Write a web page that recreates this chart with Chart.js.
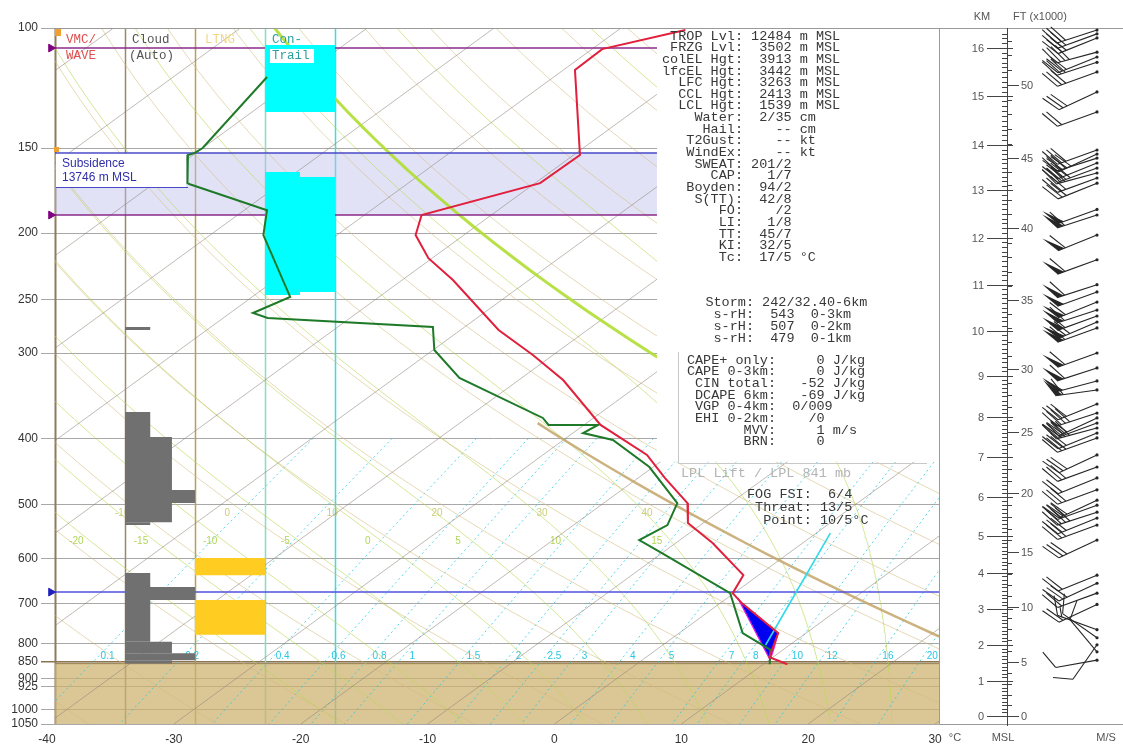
<!DOCTYPE html>
<html><head><meta charset="utf-8"><title>Skew-T</title>
<script src="https://cdn.jsdelivr.net/npm/chart.js@4.4.1/dist/chart.umd.min.js"></script>
<style>html,body{margin:0;padding:0;background:#fff;overflow:hidden}#wrap{position:relative;width:1123px;height:749px}</style>
</head><body><div id="wrap"><canvas id="skewt"></canvas></div>
<script>
// ================= DATA =================
const pressureTicks = [100,150,200,250,300,400,500,600,700,800,850,900,925,1000,1050];
const tempTicks = [-40,-30,-20,-10,0,10,20,30];

// temperature profile (hPa, degC)
const tempP = [100.7,107.4,115.2,153.6,168.9,188.1,201.3,217.6,234.3,277.4,301.8,328.5,382.3,423.0,457.3,497.8,532.6,569.7,635.1,674.8,698.0,772.2,837.5,858];
const tempT = [-64.7,-69.2,-69.1,-59.5,-59.6,-65.5,-63.8,-60.3,-56.0,-47.0,-41.6,-36.5,-28.7,-21.8,-17.9,-13.4,-11.2,-7.1,-1.2,-0.1,1.7,7.8,9.7,11.9];

// dewpoint profile (hPa, degC)
const dewP = [118.0,150.0,152.6,153.6,168.9,169.5,185.1,201.3,248.1,261.9,266.4,274.6,296.8,326.2,373.4,382.3,382.3,392.9,402.2,440.7,497.8,536.2,564.1,587.1,674.8,772.2,817.1,858];
const dewT = [-92.6,-90.0,-90.1,-90.4,-87.4,-87.1,-78.2,-75.8,-67.0,-68.2,-66.5,-52.5,-49.9,-44.9,-34.0,-32.8,-28.9,-29.2,-26.1,-20.3,-14.2,-12.6,-13.2,-10.3,-0.3,5.0,9.0,10.5];

// CIN area (parcel vs environment) and lifted parcel line
const cinP = [686.3,698.0,772.2,812.3,846.2];
const cinT = [0.85,1.7,7.8,9.1,10.1];
const liftP = [804,550.8];
const liftT = [8.1,1.1];

// cloud column layers (top hPa, base hPa, cover fraction)
const cloudTopP = [274.6,366.0,398.3,476.2,497.8,531.0,630.3,661.1,690.9,795.3,827.1,846.2];
const cloudBotP = [277.4,398.3,476.2,497.8,531.0,536.2,661.1,690.9,795.3,827.1,846.2,856];
const cloudCover = [0.36,0.36,0.67,1.0,0.67,0.36,0.36,1.0,0.36,0.67,1.0,0.67];

// third column (yellow) layers
const ltngTopP = [599.4,690.9];
const ltngBotP = [635.1,777.0];

// contrail layers (top, base, from fraction, to fraction)
const conTopP = [105.9,162.7,165.4];
const conBotP = [132.8,246.4,243.9];
const conFrom = [0,0,0.5];
const conTo = [1,0.5,1];

// levels
const surfaceP = 856;
const subsidenceTopP = 152.5;
const subsidenceBotP = 188.1;
const tropLevelsP = [107.0,188.1];   // purple markers
const frzLevelP = 672.5;             // blue marker

// reference isopleths highlighted in the picture (potential temperature, K)
const refDryTheta = 315.5;
const refUpperTheta = 339.5;

// height scale of the wind panel: pressure at each km (MSL)
const kmLabels = [0,1,2,3,4,5,6,7,8,9,10,11,12,13,14,15,16];
const kmP = [1022,908,804,712,630,556,488,426,372,324,278,238,203,173,148.5,126,107];

// winds (hPa, direction deg, speed m/s)
const windP = [100.7,102.0,103.4,108.5,110.3,112.3,116.0,124.1,132.8,151.0,153.1,155.2,157.8,160.5,163.2,166.0,168.9,184.6,188.1,201.3,218.8,238.0,243.9,252.4,259.3,264.6,270.0,275.5,299.8,315.3,329.5,339.7,356.2,367.3,373.4,379.9,386.3,392.9,399.5,423.0,440.7,457.3,476.0,493.0,501.3,513.3,523.7,536.2,564.1,635.1,652.6,674.8,701.0,763.6,784.6,803.5,822.7,846.2];
const windDir = [252,250,248,255,248,252,250,245,250,250,245,252,248,250,255,250,248,250,252,248,250,252,250,248,252,250,247,250,250,252,255,262,248,252,245,250,255,248,250,245,250,248,250,245,250,252,248,250,245,248,245,250,245,290,305,215,320,260];
const windSpd = [17,15,15,20,17,15,15,15,12,17,20,15,17,20,15,17,15,27,30,30,30,32,27,30,32,30,35,30,30,32,27,30,17,20,17,15,20,17,15,15,15,12,15,15,17,20,15,17,15,12,15,12,10,8,7,6,5,5];

// background isopleth sets
const isothermT = [-110,-100,-90,-80,-70,-60,-50,-40,-30,-20,-10,0,10,20,30];
const dryThetaC = [-40,-30,-20,-10,0,10,20,30,40,50,60,70,80,90,100,110,120,130,140,150,160,170];
const moistThetaW = [-20,-15,-10,-5,0,5,10,15,20,25,30,35,40];
const mixW = [0.1,0.2,0.4,0.6,0.8,1,1.5,2,2.5,3,4,5,7,8,10,12,16,20];

// ================= LAYOUT / PROJECTION =================
const P_BOTTOM = 1050, SKEW = 32;
const X_MIN = -40, X_MAX = 30.39;
const COL_X = [-39.37,-33.85,-28.33,-22.82,-17.30]; // column boundaries (axis units)
const BOX_X = 8.08, BOX_P = 433;                  // text panel area
const CLIP = {left:-8, top:0, right:0, bottom:0};
const FONT_SANS = '"Liberation Sans", Arial, sans-serif';
const FONT_MONO = '"Liberation Mono", "DejaVu Sans Mono", monospace';

const sx = (T,p) => T + SKEW*Math.log(P_BOTTOM/p);
const pt = (T,p) => ({x: sx(T,p), y: p});
function logSpace(a,b,n){const r=[];for(let i=0;i<=n;i++) r.push(a*Math.pow(b/a,i/n));return r;}
function es(Tc){return 6.112*Math.exp(17.67*Tc/(Tc+243.5));}
function dTdp(TK,p){
  const e=es(TK-273.15), rs=0.622*e/(p-e);
  const Rd=287.04, Cp=1005.7, L=2.501e6, eps=0.622;
  return (Rd*TK + L*rs)/(p*(Cp + L*L*rs*eps/(Rd*TK*TK)));
}
function moistPath(Tc,p0,p1){
  const pts=[]; let T=Tc+273.15, p=p0;
  const n=Math.max(1,Math.ceil(Math.abs(p1-p0)/5)), dp=(p1-p0)/n;
  pts.push(pt(T-273.15,p));
  for(let i=0;i<n;i++){const k1=dTdp(T,p), k2=dTdp(T+k1*dp,p+dp); T+=0.5*(k1+k2)*dp; p+=dp; pts.push(pt(T-273.15,p));}
  return pts;
}
const dryT = (thK,p) => thK*Math.pow(p/1000,0.2857)-273.15;
function tdFromW(w,p){const e=w*p/(622+w), l=Math.log(e/6.112); return 243.5*l/(17.67-l);}
const rect = (x0,x1,p0,p1) => [{x:x0,y:p0},{x:x1,y:p0},{x:x1,y:p1},{x:x0,y:p1},{x:x0,y:p0}];

// ================= DATASETS =================
const datasets = [];
function addLine(points,o){datasets.push(Object.assign({data:points,showLine:true,pointRadius:0,pointHoverRadius:0,borderWidth:1,fill:false,clip:CLIP,tension:0},o));}
function addPoly(points,color,order){addLine(points,{fill:'shape',backgroundColor:color,borderColor:'rgba(0,0,0,0)',borderWidth:0,order});}

// ground and subsidence band
addPoly(rect(COL_X[0],X_MAX,surfaceP,P_BOTTOM),'rgba(205,178,110,0.72)',100);
addLine([{x:COL_X[0],y:surfaceP},{x:X_MAX,y:surfaceP}],{borderColor:'#8a7550',borderWidth:1.5,order:100});
addPoly(rect(COL_X[0],X_MAX,subsidenceTopP,subsidenceBotP),'rgba(190,190,238,0.45)',99);

// isotherms
isothermT.forEach(T=>addLine([pt(T,P_BOTTOM),pt(T,100)],{borderColor:'rgba(140,130,120,0.55)',order:90}));
// dry adiabats
const pl = logSpace(100,P_BOTTOM,40);
dryThetaC.forEach(tc=>addLine(pl.map(p=>pt(dryT(tc+273.15,p),p)),{borderColor:'rgba(210,185,120,0.55)',order:90}));
// moist adiabats
moistThetaW.forEach(tw=>{const down=moistPath(tw,1000,P_BOTTOM).reverse(); const up=moistPath(tw,1000,100); addLine(down.concat(up.slice(1)),{borderColor:'rgba(185,215,80,0.6)',order:90});});
// mixing ratio
mixW.forEach(w=>addLine(logSpace(400,P_BOTTOM,20).map(p=>pt(tdFromW(w,p),p)),{borderColor:'rgba(30,200,230,0.75)',borderDash:[2,3],order:90}));
// highlighted isopleths
addLine(logSpace(380,P_BOTTOM,30).map(p=>pt(dryT(refDryTheta,p),p)),{borderColor:'rgba(195,165,105,0.85)',borderWidth:2.5,order:89});
addLine(logSpace(100,420,30).map(p=>pt(dryT(refUpperTheta,p),p)),{borderColor:'rgba(175,222,50,0.9)',borderWidth:3,order:89});

// marker levels
tropLevelsP.forEach(p=>addLine([{x:COL_X[0],y:p},{x:X_MAX,y:p}],{borderColor:'#8a2a8a',borderWidth:1.5,order:85}));
addLine([{x:COL_X[0],y:subsidenceTopP},{x:X_MAX,y:subsidenceTopP}],{borderColor:'#4848c8',borderWidth:1.5,order:85});
addLine([{x:COL_X[0],y:frzLevelP},{x:X_MAX,y:frzLevelP}],{borderColor:'#5050e0',borderWidth:1.5,order:85});
const markerX = -39.685;
tropLevelsP.forEach(p=>datasets.push({data:[{x:markerX,y:p}],showLine:false,pointStyle:'triangle',rotation:90,pointRadius:4.5,pointBackgroundColor:'#800080',pointBorderColor:'#800080',clip:false,order:5}));
datasets.push({data:[{x:markerX,y:frzLevelP}],showLine:false,pointStyle:'triangle',rotation:90,pointRadius:4.5,pointBackgroundColor:'#2020c0',pointBorderColor:'#2020c0',clip:false,order:5});

// text panel background
addPoly(rect(BOX_X,X_MAX,100,BOX_P),'#ffffff',80);

// columns: clouds, yellow, contrail
const cw = COL_X[2]-COL_X[1];
cloudTopP.forEach((t,i)=>addPoly(rect(COL_X[1],COL_X[1]+cloudCover[i]*cw,t,cloudBotP[i]),'#707070',50));
ltngTopP.forEach((t,i)=>addPoly(rect(COL_X[2],COL_X[3],t,ltngBotP[i]),'#ffcc22',50));
const ccw = COL_X[4]-COL_X[3];
conTopP.forEach((t,i)=>addPoly(rect(COL_X[3]+conFrom[i]*ccw,COL_X[3]+conTo[i]*ccw,t,conBotP[i]),'#00ffff',50));

// CIN area and lifted line
const cinPts = cinP.map((p,i)=>pt(cinT[i],p)); cinPts.push(cinPts[0]);
addLine(cinPts,{fill:'shape',backgroundColor:'#0000f0',borderColor:'#e020e0',borderWidth:1.2,order:30});
addLine(liftP.map((p,i)=>pt(liftT[i],p)),{borderColor:'#30d8e8',borderWidth:1.6,order:25});

// profiles
addLine(dewP.map((p,i)=>pt(dewT[i],p)),{borderColor:'#1e7a28',borderWidth:2,order:11});
addLine(tempP.map((p,i)=>pt(tempT[i],p)),{borderColor:'#e0203c',borderWidth:2,order:10});

// ================= DECORATION PLUGIN =================
function kmToP(km){const i=Math.min(Math.max(Math.floor(km),0),kmP.length-2); const f=km-i; return Math.exp(Math.log(kmP[i])*(1-f)+Math.log(kmP[i+1])*f);}

const deco = {
  id:'deco',
  beforeDatasetsDraw(chart){
    const ctx=chart.ctx, X=v=>chart.scales.x.getPixelForValue(v), Y=p=>chart.scales.y.getPixelForValue(p);
    const ca=chart.chartArea, top=Y(100), bot=Y(P_BOTTOM);
    const cols=[['#8c7b5e',2],['#9a8868',1.5],['#b8a050',1.5],['#80e0c0',1.5],['#40dcdc',1.5]];
    ctx.save();
    COL_X.forEach((v,i)=>{const x=Math.round(X(v))+0.5; ctx.strokeStyle=cols[i][0]; ctx.lineWidth=cols[i][1]; ctx.beginPath(); ctx.moveTo(x,top); ctx.lineTo(x,bot); ctx.stroke();});
    // isopleth labels
    ctx.font='10px '+FONT_SANS; ctx.textAlign='center'; ctx.textBaseline='middle';
    ctx.fillStyle='rgba(30,195,225,0.95)';
    mixW.forEach(w=>{const px=X(sx(tdFromW(w,835),835))+9; if(px>X(COL_X[0])+6 && px<ca.right-6) ctx.fillText(String(w),px,Y(835));});
    ctx.fillStyle='rgba(200,200,110,0.9)';
    dryThetaC.forEach(tc=>{const px=X(sx(dryT(tc+273.15,515),515))-18; if(px>70 && px<700) ctx.fillText(String(tc),px,Y(515));});
    ctx.fillStyle='rgba(170,210,70,0.9)';
    moistThetaW.forEach(tw=>{const path=moistPath(tw,1000,566); const q=path[path.length-1]; const px=X(q.x)-14; if(px>70 && px<700) ctx.fillText(String(tw),px,Y(566));});
    ctx.restore();
  },
  afterDatasetsDraw(chart){
    const ctx=chart.ctx, X=v=>chart.scales.x.getPixelForValue(v), Y=p=>chart.scales.y.getPixelForValue(p);
    const ca=chart.chartArea;
    ctx.save();
    // frame
    ctx.strokeStyle='#9a9a9a'; ctx.lineWidth=1;
    ctx.beginPath(); ctx.moveTo(X(COL_X[0]),Math.round(ca.top)+0.5); ctx.lineTo(1123,Math.round(ca.top)+0.5); ctx.stroke();
    ctx.beginPath(); ctx.moveTo(Math.round(ca.right)-0.5,ca.top); ctx.lineTo(Math.round(ca.right)-0.5,ca.bottom); ctx.stroke();

    // subsidence label
    const sl=X(COL_X[0])+1, stp=Y(subsidenceTopP)+1, sbt=187;
    ctx.fillStyle='#ffffff'; ctx.fillRect(sl,stp,186-sl,sbt-stp);
    ctx.strokeStyle='#4848c8'; ctx.lineWidth=1.2; ctx.beginPath(); ctx.moveTo(sl,sbt+0.5); ctx.lineTo(188,sbt+0.5); ctx.stroke();
    ctx.fillStyle='#3030a8'; ctx.font='12px '+FONT_SANS; ctx.textAlign='left'; ctx.textBaseline='middle';
    ctx.fillText('Subsidence',62,164); ctx.fillText('13746 m MSL',62,178);

    // orange markers
    ctx.fillStyle='#f0a030'; ctx.fillRect(55,29,6,7); ctx.fillRect(54,147,5,5);

    // column titles
    ctx.font='12.5px '+FONT_MONO; ctx.textAlign='left';
    ctx.fillStyle='#e05050'; ctx.fillText('VMC/',66,40); ctx.fillText('WAVE',66,56);
    ctx.fillStyle='#555555'; ctx.fillText('Cloud',132,40); ctx.fillText('(Auto)',129,56);
    ctx.fillStyle='#f0d888'; ctx.fillText('LTNG',205,40);
    ctx.fillStyle='#ffffff'; ctx.fillRect(270,49,44,14);
    ctx.fillStyle='#2aa0a0'; ctx.fillText('Con-',272,40); ctx.fillText('Trail',272,56);

    // info text block
    ctx.font='13.5px '+FONT_MONO; ctx.fillStyle='#383838'; ctx.textBaseline='middle'; ctx.textAlign='left';
    const cwid=ctx.measureText('M').width;
    const info=[['TROP Lvl','12484','m MSL'],['FRZG Lvl','3502','m MSL'],['colEL Hgt','3913','m MSL'],['lfcEL Hgt','3442','m MSL'],['LFC Hgt','3263','m MSL'],['CCL Hgt','2413','m MSL'],['LCL Hgt','1539','m MSL'],['Water','2/35','cm'],['Hail','--','cm'],['T2Gust','--','kt'],['WindEx','--','kt'],['SWEAT','201/2',''],['CAP','1/7',''],['Boyden','94/2',''],['S(TT)','42/8',''],['FO','/2',''],['LI','1/8',''],['TT','45/7',''],['KI','32/5',''],['Tc','17/5','°C']];
    const x0=743-10*cwid;
    info.forEach((r,i)=>{ctx.fillText((r[0]+':').padStart(10)+' '+r[1].padStart(5)+(r[2]?' '+r[2]:''),x0,36+i*11.65);});
    const storm=['Storm: 242/32.40-6km',' s-rH:  543  0-3km',' s-rH:  507  0-2km',' s-rH:  479  0-1km'];
    const x1=754-6*cwid;
    storm.forEach((s,i)=>ctx.fillText(s,x1,302+i*12));
    const cape=[['CAPE+ only','    0 J/kg'],['CAPE 0-3km','    0 J/kg'],['CIN total','  -52 J/kg'],['DCAPE 6km','  -69 J/kg'],['VGP 0-4km',' 0/009'],['EHI 0-2km','   /0'],['MVV','    1 m/s'],['BRN','    0']];
    const x2=776-11*cwid;
    cape.forEach((r,i)=>ctx.fillText((r[0]+':').padStart(11)+' '+r[1],x2,360+i*11.7));
    ctx.strokeStyle='#c8c8c8'; ctx.lineWidth=1;
    ctx.beginPath(); ctx.moveTo(678.5,352); ctx.lineTo(678.5,463.5); ctx.lineTo(927,463.5); ctx.stroke();
    ctx.fillStyle='#b4b4b4'; ctx.fillText('LPL Lift / LPL 841 mb',681,473);
    ctx.fillStyle='#383838';
    const fog=['FOG FSI:  6/4',' Threat: 13/5','  Point: 10/5°C'];
    fog.forEach((s,i)=>ctx.fillText(s,747,494+i*13));
    ctx.restore();
  },
  afterDraw(chart){
    const ctx=chart.ctx, Y=p=>chart.scales.y.getPixelForValue(p);
    const ca=chart.chartArea;
    const ln=(a,b,c,d)=>{ctx.beginPath();ctx.moveTo(a,b);ctx.lineTo(c,d);ctx.stroke();};
    ctx.save();
    ctx.strokeStyle='#9a9a9a'; ctx.lineWidth=1;
    ln(940,Math.round(ca.bottom)+0.5,1123,Math.round(ca.bottom)+0.5);
    const ax=1007.5;
    ctx.strokeStyle='#444'; ln(ax,ca.top,ax,ca.bottom+2);
    for(let k=1;k<=164;k++){ if(k%10===0) continue; const y=Math.round(Y(kmToP(k/10)))+0.5; if(y<ca.top+2) continue; ln(1002,y,ax,y);}
    ctx.font='11px '+FONT_SANS; ctx.fillStyle='#555'; ctx.textBaseline='middle';
    kmLabels.forEach((k,i)=>{const y=Math.round(Y(kmP[i]))+0.5; ln(987,y,1013,y); ctx.textAlign='right'; ctx.fillText(String(k),984,y);});
    for(let f=0;f<=53;f++){const y=Math.round(Y(kmToP(f*0.3048)))+0.5; if(y<ca.top+2) continue; if(f%5===0){ln(ax,y,1019,y); ctx.textAlign='left'; ctx.fillText(String(f),1021,y);} else ln(ax,y,1012,y);}
    ctx.textAlign='center'; ctx.fillText('KM',982,17); ctx.fillText('FT (x1000)',1040,17);
    ctx.fillText('°C',955,738); ctx.fillText('MSL',1003,738); ctx.fillText('M/S',1106,738);
    // wind barbs
    const bx=1097;
    ctx.strokeStyle='#262626'; ctx.fillStyle='#262626'; ctx.lineWidth=1.1;
    windP.forEach((p,i)=>{
      const y=Y(p), rad=windDir[i]*Math.PI/180;
      const ux=Math.sin(rad), uy=-Math.cos(rad), L=42, fl=20, a=60*Math.PI/180;
      const fx=ux*Math.cos(a)-uy*Math.sin(a), fy=ux*Math.sin(a)+uy*Math.cos(a);
      const ex=bx+ux*L, ey=y+uy*L;
      ln(bx,y,ex,ey);
      let s=windSpd[i], pos=0;
      while(s>=25-1e-6){const b1x=ex-ux*pos,b1y=ey-uy*pos,b2x=ex-ux*(pos+7),b2y=ey-uy*(pos+7);
        ctx.beginPath(); ctx.moveTo(b1x,b1y); ctx.lineTo(b1x+fx*fl,b1y+fy*fl); ctx.lineTo(b2x,b2y); ctx.closePath(); ctx.fill(); pos+=8; s-=25;}
      while(s>=5-1e-6){const b1x=ex-ux*pos,b1y=ey-uy*pos; ln(b1x,b1y,b1x+fx*fl,b1y+fy*fl); pos+=4.5; s-=5;}
      if(s>=2.5-1e-6){const b1x=ex-ux*pos,b1y=ey-uy*pos; ln(b1x,b1y,b1x+fx*fl/2,b1y+fy*fl/2);}
      ctx.beginPath(); ctx.arc(bx,y,1.6,0,Math.PI*2); ctx.fill();
    });
    ctx.restore();
  }
};

Chart.defaults.font.family = FONT_SANS;
new Chart(document.getElementById('skewt'), {
  type:'line',
  data:{datasets},
  options:{
    responsive:true, maintainAspectRatio:false, animation:false, devicePixelRatio:1, events:[],
    layout:{padding:{top:28,right:183,left:0,bottom:0}},
    plugins:{legend:{display:false},tooltip:{enabled:false}},
    scales:{
      x:{type:'linear',position:'bottom',min:X_MIN,max:X_MAX,
        afterBuildTicks:s=>{s.ticks=tempTicks.map(v=>({value:v}));},
        afterFit:s=>{s.height=25;},
        grid:{display:false},border:{display:false},
        ticks:{color:'#333',font:{size:12},padding:0,autoSkip:false,maxRotation:0,callback:v=>String(v)}},
      y:{type:'logarithmic',reverse:true,min:100,max:P_BOTTOM,
        afterBuildTicks:s=>{s.ticks=pressureTicks.map(v=>({value:v}));},
        afterFit:s=>{s.width=47;},
        grid:{color:c=>(c.tick&&c.tick.value===850)?'#8a7550':'#a8a8a8',lineWidth:c=>(c.tick&&c.tick.value===850)?1.5:1,tickLength:6},
        border:{display:false},
        ticks:{color:'#333',font:{size:12},padding:3,autoSkip:false,callback:v=>String(v)}}
    }
  },
  plugins:[deco]
});
</script></body></html>
